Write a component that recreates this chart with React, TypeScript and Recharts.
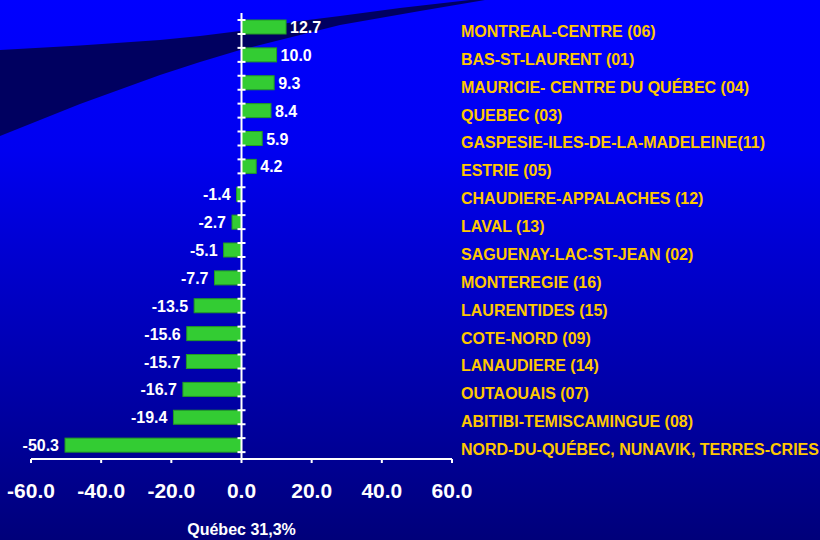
import React from 'react';
import { BarChart, Bar, XAxis, YAxis, ReferenceLine } from 'recharts';

const regions = [
  'MONTREAL-CENTRE (06)',
  'BAS-ST-LAURENT (01)',
  'MAURICIE- CENTRE DU QUÉBEC (04)',
  'QUEBEC (03)',
  'GASPESIE-ILES-DE-LA-MADELEINE(11)',
  'ESTRIE (05)',
  'CHAUDIERE-APPALACHES (12)',
  'LAVAL (13)',
  'SAGUENAY-LAC-ST-JEAN (02)',
  'MONTEREGIE (16)',
  'LAURENTIDES (15)',
  'COTE-NORD (09)',
  'LANAUDIERE (14)',
  'OUTAOUAIS (07)',
  'ABITIBI-TEMISCAMINGUE (08)',
  'NORD-DU-QUÉBEC, NUNAVIK, TERRES-CRIES',
];

const changes = [12.7, 10.0, 9.3, 8.4, 5.9, 4.2, -1.4, -2.7, -5.1, -7.7, -13.5, -15.6, -15.7, -16.7, -19.4, -50.3];

const xTicks = [-60, -40, -20, 0, 20, 40, 60];

const footnote = 'Québec 31,3%';

const data = regions.map((region, i) => ({ region, change: changes[i] }));

const FONT = '"Liberation Sans", Arial, Helvetica, sans-serif';

const SWOOSH =
  'M0,50 L80,45.5 L160,40 L200,36 L240,31 L300,21 L340,16 L400,8 L470,0 L485,0 ' +
  'L420,11 L340,25 L300,35 L240,50 L200,62 L160,75 L80,104 L0,136 Z';

const BarShape = (props: any) => {
  const { x, y, width, height, background, payload } = props;
  const v: number = payload.change;
  const left = Math.min(x, x + width);
  const w = Math.abs(width);
  const zero = v < 0 ? left + w : left;
  const cy = y + height / 2;
  const bandTop = background && typeof background.y === 'number' ? background.y : y - 7;
  const bandBottom =
    background && typeof background.y === 'number' ? background.y + background.height : y + height + 7;
  return (
    <g>
      <rect x={left} y={y} width={w} height={height} fill="#33CC33" stroke="#239B23" strokeWidth={1} />
      <line x1={zero - 4} x2={zero + 4} y1={bandTop} y2={bandTop} stroke="#FFFFFF" strokeWidth={2} />
      <line x1={zero - 4} x2={zero + 4} y1={bandBottom} y2={bandBottom} stroke="#FFFFFF" strokeWidth={2} />
      <text
        x={v < 0 ? left - 6 : left + w + 4}
        y={cy + 6}
        textAnchor={v < 0 ? 'end' : 'start'}
        fill="#FFFFFF"
        fontSize={16}
        fontWeight="bold"
        fontFamily={FONT}
      >
        {v.toFixed(1)}
      </text>
    </g>
  );
};

const RegionTick = (props: any) => {
  const { x, y, payload } = props;
  return (
    <text x={x} y={y + 10} textAnchor="start" fill="#FFC800" fontSize={16} fontWeight="bold" fontFamily={FONT}>
      {payload.value}
    </text>
  );
};

export default function App() {
  return (
    <div
      style={{
        position: 'absolute',
        left: 0,
        top: 0,
        width: 820,
        height: 540,
        overflow: 'hidden',
        background: 'linear-gradient(to bottom, #0000FF 0%, #0000F0 28%, #00007A 100%)',
      }}
    >
      <svg width={820} height={540} style={{ position: 'absolute', left: 0, top: 0 }}>
        <path d={SWOOSH} fill="#000060" />
      </svg>
      <div style={{ position: 'absolute', left: 0, top: 0 }}>
        <BarChart
          width={820}
          height={540}
          data={data}
          layout="vertical"
          margin={{ top: 13, left: 31, right: 8, bottom: 0 }}
          barSize={14}
        >
          <XAxis
            type="number"
            domain={[-60, 60]}
            ticks={xTicks}
            tickFormatter={(v: number) => v.toFixed(1)}
            stroke="#FFFFFF"
            axisLine={{ stroke: '#FFFFFF', strokeWidth: 2 }}
            tickLine={{ stroke: '#FFFFFF', strokeWidth: 2 }}
            tickSize={4}
            tickMargin={20}
            height={81}
            tick={{ fill: '#FFFFFF', fontSize: 21, fontWeight: 'bold', fontFamily: FONT }}
            label={{
              value: footnote,
              position: 'insideBottom',
              offset: 5,
              fill: '#FFFFFF',
              fontSize: 16,
              fontWeight: 'bold',
              fontFamily: FONT,
            }}
          />
          <YAxis
            type="category"
            dataKey="region"
            orientation="right"
            width={360}
            axisLine={false}
            tickLine={false}
            tickSize={0}
            tickMargin={9}
            interval={0}
            tick={<RegionTick />}
          />
          <ReferenceLine x={0} stroke="#FFFFFF" strokeWidth={2} />
          <Bar dataKey="change" isAnimationActive={false} shape={<BarShape />} />
        </BarChart>
      </div>
    </div>
  );
}
